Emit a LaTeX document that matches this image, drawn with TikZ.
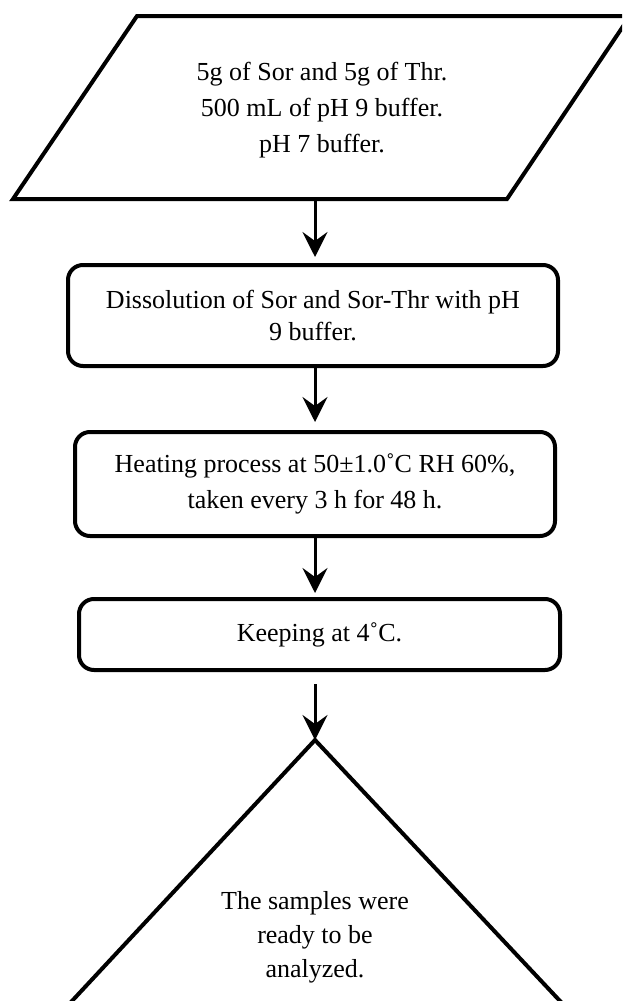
\documentclass[tikz,border=0pt]{standalone}
\usepackage{fontspec}
\setmainfont{Liberation Serif}
\usetikzlibrary{arrows.meta,calc}
\begin{document}
\begin{tikzpicture}[x=1pt,y=-1pt,
  shape line/.style={line width=4pt,line join=round},
  procbox/.style={draw,shape line,rounded corners=15pt,inner sep=0pt,align=center,
    font=\fontsize{26}{34}\selectfont},
  txt/.style={align=center,inner sep=0pt,font=\fontsize{26}{35}\selectfont},
  flow/.style={line width=3pt,-{Stealth[length=25pt,width=25pt,inset=9pt]}}]
\useasboundingbox (0,0) rectangle (622,1001);
\clip (0,0) rectangle (622,1001);
% input parallelogram
\draw[shape line,line join=miter] (137,16) -- (630,16) -- (507,199) -- (13,199) -- cycle;
\node[txt,font=\fontsize{26}{36}\selectfont] (input) at (322,110) {5g of Sor and 5g of Thr.\\500 mL of pH 9 buffer.\\pH 7 buffer.};
\coordinate (pbot) at (315,201);
% process boxes
\node[procbox,minimum width=490pt,minimum height=101pt,font=\fontsize{26}{32}\selectfont] (b1) at (313,315.5)
  {Dissolution of Sor and Sor-Thr with pH\\9 buffer.};
\node[procbox,minimum width=480pt,minimum height=104pt,font=\fontsize{26}{36}\selectfont] (b2) at (315,484)
  {Heating process at 50±1.0˚C RH 60\%,\\taken every 3 h for 48 h.};
\node[procbox,minimum width=481pt,minimum height=71pt] (b3) at (319.5,634.5)
  {Keeping at 4˚C.};
% output triangle
\coordinate (apex) at (315,740);
\draw[shape line,line join=miter] ($(apex)!1.3!(72,1001)$) -- (apex) -- ($(apex)!1.3!(560,1001)$);
\node[txt,font=\fontsize{26}{34}\selectfont] (out) at (315,937) {The samples were\\ready to be\\analyzed.};
% connectors
\draw[flow,shorten >=6pt] (pbot) -- (pbot |- b1.north);
\draw[flow,shorten >=8pt] (b1.south -| pbot) -- (pbot |- b2.north);
\draw[flow,shorten >=4pt] (b2.south -| pbot) -- (pbot |- b3.north);
\draw[flow,shorten <=12pt] (b3.south -| pbot) -- (apex);
\end{tikzpicture}
\end{document}
